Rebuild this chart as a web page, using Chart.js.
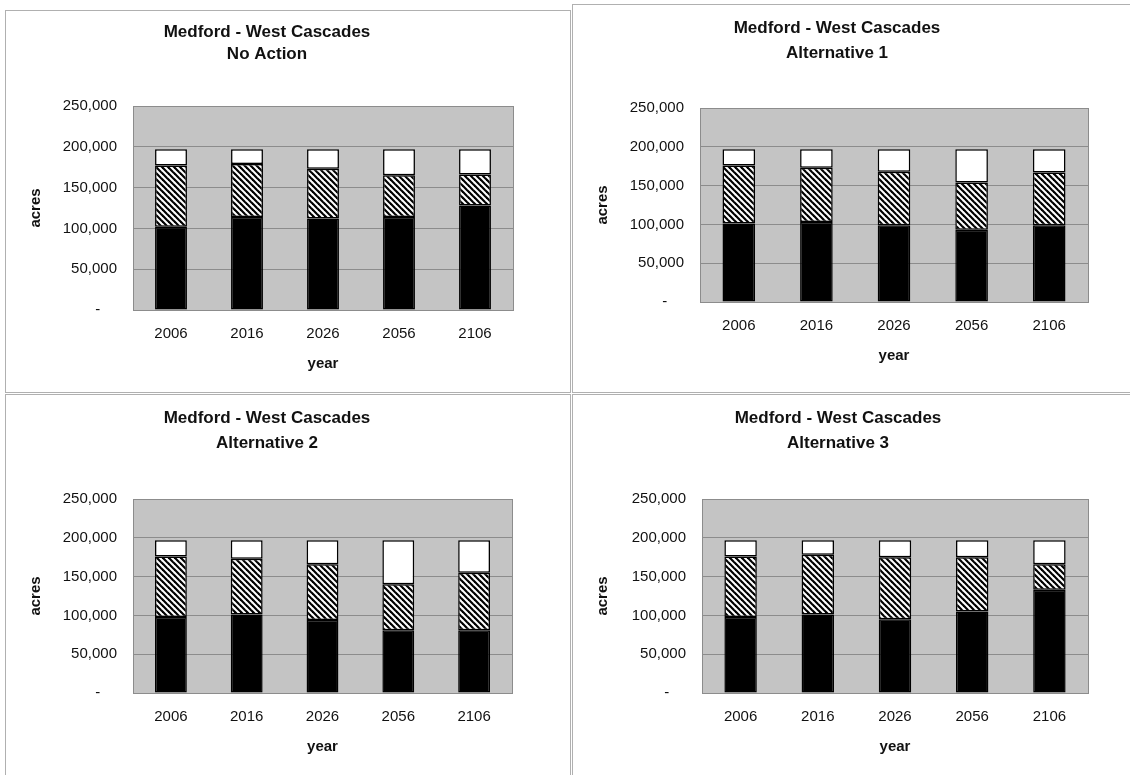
<!DOCTYPE html>
<html>
<head>
<meta charset="utf-8">
<script src="https://cdn.jsdelivr.net/npm/chart.js@4.4.1/dist/chart.umd.min.js"></script>
<style>
  html, body { margin: 0; padding: 0; background: #fff; }
  body { width: 1130px; height: 775px; position: relative; overflow: hidden; }
  .panel { position: absolute; border: 1px solid #b0b0b0; background: #fff; }
  .panel canvas { position: absolute; left: 0; top: 0; }
</style>
</head>
<body>
<div class="panel" style="left:5px;top:10px;width:564px;height:381px"><canvas id="c1" width="564" height="381"></canvas></div>
<div class="panel" style="left:572px;top:4px;width:558px;height:387px"><canvas id="c2" width="558" height="387"></canvas></div>
<div class="panel" style="left:5px;top:394px;width:564px;height:381px"><canvas id="c3" width="564" height="381"></canvas></div>
<div class="panel" style="left:572px;top:394px;width:558px;height:381px"><canvas id="c4" width="558" height="381"></canvas></div>
<script>
// Categories and axis ticks
const years = ['2006', '2016', '2026', '2056', '2106'];
const yTicks = [0, 50000, 100000, 150000, 200000, 250000];

// Panel titles
const regionTitle = 'Medford - West Cascades';
const scenarioNames = ['No Action', 'Alternative 1', 'Alternative 2', 'Alternative 3'];

// Acres by year, stacked bottom (solid) to middle (hatched) to top (open)
const noActionSolid   = [102000, 114000, 112000, 114000, 128000];
const noActionHatched = [75000, 65000, 61000, 51000, 38000];
const noActionOpen    = [20000, 18000, 24000, 32000, 31000];

const alt1Solid   = [101000, 103000, 99000, 93000, 99000];
const alt1Hatched = [75000, 70000, 69000, 61000, 68000];
const alt1Open    = [21000, 24000, 29000, 43000, 30000];

const alt2Solid   = [98000, 101000, 94000, 81000, 81000];
const alt2Hatched = [78000, 72000, 72000, 59000, 74000];
const alt2Open    = [21000, 24000, 31000, 57000, 42000];

const alt3Solid   = [98000, 101000, 95000, 105000, 133000];
const alt3Hatched = [78000, 77000, 80000, 70000, 33000];
const alt3Open    = [21000, 19000, 22000, 22000, 31000];

const axisX = 'year';
const axisY = 'acres';

// Diagonal hatch fill
function makeHatch() {
  const t = document.createElement('canvas');
  t.width = 6; t.height = 6;
  const g = t.getContext('2d');
  g.fillStyle = '#fff';
  g.fillRect(0, 0, 6, 6);
  g.strokeStyle = '#000';
  g.lineWidth = 2.2;
  for (const off of [-6, 0, 6]) {
    g.beginPath();
    g.moveTo(off - 1, -1);
    g.lineTo(off + 7, 7);
    g.stroke();
  }
  return g.createPattern(t, 'repeat');
}
const hatch = makeHatch();

const FONT = '"Liberation Sans", Arial, sans-serif';

// Panel layout: plot rectangle inside each canvas, title placement
const layouts = [
  { id: 'c1', plot: { l: 127, r: 507, t: 95, b: 299 }, titleX: 261, titleY: [21, 43], data: [noActionSolid, noActionHatched, noActionOpen] },
  { id: 'c2', plot: { l: 127, r: 515, t: 103, b: 297 }, titleX: 264, titleY: [23, 48], data: [alt1Solid, alt1Hatched, alt1Open] },
  { id: 'c3', plot: { l: 127, r: 506, t: 104, b: 298 }, titleX: 261, titleY: [23, 48], data: [alt2Solid, alt2Hatched, alt2Open] },
  { id: 'c4', plot: { l: 129, r: 515, t: 104, b: 298 }, titleX: 265, titleY: [23, 48], data: [alt3Solid, alt3Hatched, alt3Open] }
];

const plotBackground = {
  id: 'plotBackground',
  beforeDraw(chart) {
    const { ctx, chartArea: a } = chart;
    ctx.save();
    ctx.fillStyle = '#c4c4c4';
    ctx.fillRect(a.left, a.top, a.right - a.left, a.bottom - a.top);
    ctx.restore();
  },
  afterDatasetsDraw(chart) {
    const { ctx, chartArea: a } = chart;
    ctx.save();
    ctx.strokeStyle = '#8c8c8c';
    ctx.lineWidth = 1;
    ctx.strokeRect(Math.round(a.left) + 0.5, Math.round(a.top) + 0.5, Math.round(a.right - a.left), Math.round(a.bottom - a.top));
    ctx.restore();
  }
};

const panelText = {
  id: 'panelText',
  afterDraw(chart, args, opts) {
    const { ctx, chartArea: a } = chart;
    ctx.save();
    ctx.fillStyle = '#111';
    ctx.textAlign = 'center';
    ctx.textBaseline = 'middle';
    ctx.font = 'bold 17px ' + FONT;
    ctx.fillText(opts.title[0], opts.titleX, opts.titleY[0]);
    ctx.fillText(opts.title[1], opts.titleX, opts.titleY[1]);
    ctx.font = 'bold 15px ' + FONT;
    ctx.fillText(axisX, (a.left + a.right) / 2, a.bottom + 54);
    ctx.translate(30, (a.top + a.bottom) / 2);
    ctx.rotate(-Math.PI / 2);
    ctx.fillText(axisY, 0, 0);
    ctx.restore();
  }
};

layouts.forEach((p, i) => {
  const canvas = document.getElementById(p.id);
  const W = canvas.width, H = canvas.height;
  const xAxisH = 40;
  new Chart(canvas, {
    type: 'bar',
    data: {
      labels: years,
      datasets: [
        { label: 'solid', data: p.data[0], backgroundColor: '#000' },
        { label: 'hatched', data: p.data[1], backgroundColor: hatch },
        { label: 'open', data: p.data[2], backgroundColor: '#fff' }
      ].map(d => Object.assign(d, {
        borderColor: '#000', borderWidth: 1.5, borderSkipped: false,
        barPercentage: 0.42, categoryPercentage: 1
      }))
    },
    options: {
      responsive: false,
      animation: false,
      events: [],
      layout: { padding: { left: 0, top: p.plot.t, right: W - p.plot.r, bottom: H - p.plot.b - xAxisH } },
      plugins: {
        legend: { display: false },
        tooltip: { enabled: false },
        title: { display: false },
        panelText: { title: [regionTitle, scenarioNames[i]], titleX: p.titleX, titleY: p.titleY }
      },
      scales: {
        x: {
          stacked: true,
          grid: { display: false, drawTicks: false },
          border: { display: false },
          ticks: { padding: 15, color: '#111', font: { family: FONT, size: 15 } },
          afterFit(s) { s.height = xAxisH; }
        },
        y: {
          stacked: true,
          min: yTicks[0],
          max: yTicks[yTicks.length - 1],
          grid: { color: '#8c8c8c', lineWidth: 1, drawTicks: false },
          border: { display: false },
          ticks: {
            stepSize: yTicks[1] - yTicks[0],
            padding: 16,
            color: '#111',
            font: { family: FONT, size: 15 },
            callback: v => v === 0 ? '-    ' : v.toLocaleString('en-US')
          },
          afterFit(s) { s.width = p.plot.l; }
        }
      }
    },
    plugins: [plotBackground, panelText]
  });
});
</script>
</body>
</html>
